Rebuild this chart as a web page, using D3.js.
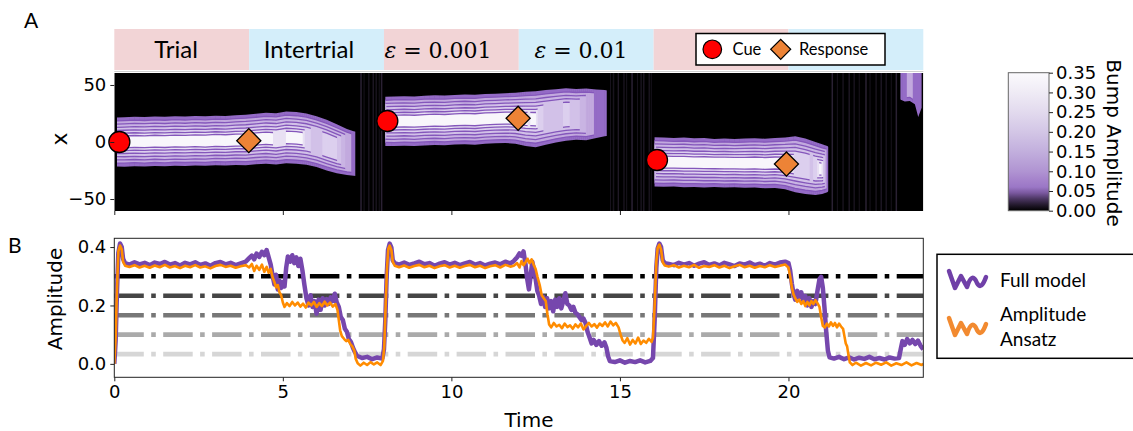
<!DOCTYPE html>
<html>
<head>
<meta charset="utf-8">
<script src="https://cdn.jsdelivr.net/npm/d3@7"></script>
<style>
  body { margin: 0; background: #fff; }
  svg { display: block; }
  .tick text { font-family: "DejaVu Sans", sans-serif; font-size: 18px; fill: #000; }
  .tick line { stroke: #222; }
</style>
</head>
<body>
<svg id="chart" width="1133" height="431"></svg>
<script>
// ---- banner (trial phases every 4 time units)
const phaseStarts = [0, 4, 8, 12, 16, 20];
const phaseKinds = ["trial", "inter", "trial", "inter", "trial", "inter"];
const phaseLabels = ["Trial", "Intertrial", "= 0.001", "= 0.01", "", ""];
const phaseLabelX = [176, 309, 438, 581, 0, 0];

// ---- cue / response markers (time, position)
const cueT = [0.15, 8.1, 16.1];
const cueX = [0, 18.4, -15.8];
const respT = [3.99, 11.98, 19.94];
const respX = [1.2, 20.8, -19.3];

// ---- bump edges in panel A
const seg1T   = [0.08, 0.3, 0.6, 0.9, 1.2, 1.5, 1.8, 2.1, 2.4, 2.7, 3.0, 3.3, 3.6, 3.9, 4.2, 4.5, 4.8, 5.1, 5.4, 5.7, 6.0, 6.3, 6.6, 6.9, 7.1, 7.25];
const seg1Top = [21.5, 21.8, 22.2, 21.9, 22.4, 22.1, 22.6, 22.3, 22.8, 22.5, 23.1, 22.8, 23.5, 24.0, 24.8, 25.6, 25.2, 26.8, 26.2, 25.0, 22.5, 19.5, 15.5, 11.5, 9.5, 8.5];
const seg1Bot = [-21.5, -21.6, -21.2, -21.5, -21.0, -21.3, -20.8, -21.0, -20.6, -20.9, -20.3, -20.5, -20.1, -20.3, -19.6, -19.0, -19.8, -18.6, -19.0, -20.0, -22.0, -25.0, -27.5, -29.0, -29.5, -30.0];

const seg2T   = [8.04, 8.3, 8.6, 8.9, 9.2, 9.5, 9.8, 10.1, 10.4, 10.7, 11.0, 11.3, 11.6, 11.9, 12.2, 12.5, 12.8, 13.1, 13.4, 13.7, 14.0, 14.3, 14.55, 14.66];
const seg2Top = [39.6, 39.9, 40.2, 40.0, 40.6, 40.9, 40.7, 41.3, 41.6, 41.4, 42.1, 42.4, 42.8, 43.2, 44.0, 44.5, 45.5, 46.3, 47.2, 46.5, 47.0, 46.0, 45.6, 45.0];
const seg2Bot = [-3.4, -3.6, -3.2, -3.5, -3.0, -2.6, -2.9, -2.3, -2.0, -2.4, -1.6, -1.2, -0.9, -1.5, -3.5, -4.5, -2.5, -0.5, 1.0, 2.0, 1.5, 3.5, 5.0, 5.5];

const seg3T   = [16.02, 16.3, 16.6, 16.9, 17.2, 17.5, 17.8, 18.1, 18.4, 18.7, 19.0, 19.3, 19.6, 19.9, 20.2, 20.5, 20.8, 21.0, 21.15, 21.23];
const seg3Top = [4.2, 4.0, 3.6, 3.9, 3.2, 3.5, 2.7, 3.1, 2.6, 3.0, 3.3, 2.9, 3.5, 4.0, 5.0, 3.0, 0.0, -2.0, -3.5, -5.0];
const seg3Bot = [-39.0, -39.3, -39.1, -39.6, -39.4, -39.8, -39.5, -40.0, -39.7, -40.2, -40.0, -40.5, -40.3, -41.5, -44.0, -45.5, -46.5, -45.5, -44.0, -42.0];

const seg4T   = [23.3, 23.45, 23.6, 23.75, 23.85, 23.95];
const seg4Top = [80, 80, 80, 80, 80, 80];
const seg4Bot = [37.5, 35.5, 36.0, 33.0, 22.0, 30.0];

// faint noise streaks between trials
const streakT = [7.32, 7.41, 7.55, 7.68, 7.77, 7.86, 7.93, 14.72, 14.81, 14.95, 15.12, 15.2, 15.36, 15.52, 15.63, 15.71, 15.87, 15.93,
                 21.3, 21.45, 21.62, 21.8, 21.95, 22.1, 22.3, 22.42, 22.6, 22.75, 22.9, 23.05, 23.2];

// ---- panel B: full model amplitude
const fullT = [0.00, 0.04, 0.08, 0.12, 0.17, 0.22, 0.26, 0.32, 0.45, 0.60, 0.75, 0.90, 1.05, 1.20, 1.35, 1.50, 1.65, 1.80, 1.95, 2.10, 2.25, 2.40, 2.55, 2.70, 2.85, 3.00, 3.15, 3.30, 3.45, 3.60, 3.75, 3.90,
  4.00, 4.08, 4.15, 4.22, 4.30, 4.38, 4.45, 4.52, 4.58, 4.64, 4.70, 4.75, 4.80, 4.85, 4.90, 4.95, 5.00, 5.05, 5.10, 5.15, 5.22, 5.28, 5.34, 5.40, 5.46, 5.52, 5.58, 5.64, 5.70, 5.76, 5.82, 5.88, 5.94,
  6.00, 6.06, 6.12, 6.18, 6.24, 6.30, 6.36, 6.42, 6.48, 6.54, 6.60, 6.66, 6.72, 6.78, 6.84, 6.90, 6.96, 7.02, 7.08, 7.14, 7.20, 7.35, 7.50, 7.65, 7.80, 7.95,
  8.00, 8.04, 8.08, 8.12, 8.17, 8.22, 8.26, 8.32, 8.45, 8.60, 8.75, 8.90, 9.05, 9.20, 9.35, 9.50, 9.65, 9.80, 9.95, 10.10, 10.25, 10.40, 10.55, 10.70, 10.85, 11.00, 11.15, 11.30, 11.45, 11.60, 11.75, 11.85,
  11.95, 12.02, 12.08, 12.14, 12.20, 12.25, 12.30, 12.35, 12.40, 12.45, 12.50, 12.55, 12.60, 12.66, 12.72, 12.78, 12.84, 12.90, 12.96, 13.02, 13.08, 13.14, 13.20, 13.26, 13.32, 13.38, 13.44, 13.50, 13.56, 13.62, 13.68, 13.74, 13.80, 13.86, 13.92, 13.98,
  14.04, 14.10, 14.16, 14.22, 14.30, 14.38, 14.46, 14.54, 14.60, 14.65, 14.70, 14.85, 15.00, 15.15, 15.30, 15.45, 15.60, 15.75, 15.90, 15.98,
  16.03, 16.08, 16.12, 16.17, 16.22, 16.27, 16.33, 16.45, 16.60, 16.75, 16.90, 17.05, 17.20, 17.35, 17.50, 17.65, 17.80, 17.95, 18.10, 18.25, 18.40, 18.55, 18.70, 18.85, 19.00, 19.15, 19.30, 19.45, 19.60, 19.75, 19.90,
  20.00, 20.05, 20.10, 20.15, 20.20, 20.26, 20.32, 20.38, 20.44, 20.50, 20.56, 20.62, 20.68, 20.74, 20.80, 20.86, 20.92, 20.97, 21.02, 21.07, 21.12, 21.17, 21.22, 21.35, 21.50, 21.65, 21.80, 21.95,
  22.10, 22.25, 22.40, 22.55, 22.70, 22.85, 23.00, 23.15, 23.28, 23.33, 23.38, 23.45, 23.52, 23.60, 23.68, 23.76, 23.84, 23.92, 24.00];
const fullAmp = [0.000, 0.080, 0.250, 0.380, 0.412, 0.400, 0.360, 0.345, 0.340, 0.348, 0.341, 0.346, 0.338, 0.347, 0.342, 0.349, 0.340, 0.345, 0.337, 0.346, 0.341, 0.348, 0.339, 0.344, 0.336, 0.345, 0.349, 0.341, 0.346, 0.338, 0.344, 0.350,
  0.362, 0.371, 0.358, 0.378, 0.366, 0.384, 0.372, 0.390, 0.365, 0.340, 0.300, 0.272, 0.305, 0.255, 0.285, 0.260, 0.280, 0.265, 0.330, 0.368, 0.350, 0.372, 0.345, 0.365, 0.335, 0.360, 0.320, 0.270, 0.225, 0.200, 0.235, 0.195, 0.215,
  0.172, 0.220, 0.185, 0.225, 0.200, 0.222, 0.205, 0.228, 0.215, 0.240, 0.210, 0.195, 0.160, 0.150, 0.120, 0.110, 0.085, 0.075, 0.055, 0.040, 0.028, 0.020, 0.024, 0.016, 0.022, 0.018,
  0.050, 0.150, 0.300, 0.390, 0.412, 0.398, 0.355, 0.345, 0.340, 0.347, 0.339, 0.344, 0.350, 0.341, 0.345, 0.336, 0.343, 0.348, 0.340, 0.346, 0.338, 0.344, 0.349, 0.340, 0.345, 0.337, 0.343, 0.347, 0.341, 0.350, 0.344, 0.352,
  0.365, 0.378, 0.370, 0.385, 0.340, 0.290, 0.255, 0.300, 0.350, 0.320, 0.290, 0.250, 0.235, 0.205, 0.230, 0.195, 0.225, 0.190, 0.215, 0.180, 0.220, 0.195, 0.225, 0.190, 0.215, 0.242, 0.205, 0.200, 0.185, 0.195, 0.175, 0.170, 0.160, 0.150, 0.155, 0.140,
  0.110, 0.090, 0.070, 0.082, 0.065, 0.078, 0.062, 0.074, 0.055, 0.025, 0.010, 0.006, 0.012, 0.004, 0.010, 0.006, 0.012, 0.005, 0.010, 0.020,
  0.150, 0.330, 0.395, 0.412, 0.400, 0.355, 0.345, 0.342, 0.338, 0.346, 0.340, 0.345, 0.336, 0.343, 0.348, 0.339, 0.344, 0.337, 0.346, 0.341, 0.335, 0.344, 0.340, 0.347, 0.338, 0.343, 0.336, 0.345, 0.340, 0.347, 0.350,
  0.345, 0.320, 0.275, 0.240, 0.220, 0.250, 0.228, 0.245, 0.215, 0.232, 0.200, 0.225, 0.195, 0.215, 0.205, 0.250, 0.290, 0.298, 0.260, 0.190, 0.110, 0.045, 0.022, 0.018, 0.024, 0.016, 0.022, 0.015,
  0.021, 0.017, 0.024, 0.016, 0.020, 0.015, 0.022, 0.018, 0.020, 0.050, 0.078, 0.065, 0.085, 0.070, 0.082, 0.068, 0.080, 0.062, 0.050];

// ---- panel B: amplitude ansatz
const ansatzT = [0.00, 0.04, 0.08, 0.12, 0.17, 0.22, 0.26, 0.32, 0.45, 0.60, 0.75, 0.90, 1.05, 1.20, 1.35, 1.50, 1.65, 1.80, 1.95, 2.10, 2.25, 2.40, 2.55, 2.70, 2.85, 3.00, 3.15, 3.30, 3.45, 3.60, 3.75, 3.90,
  4.00, 4.08, 4.15, 4.22, 4.30, 4.38, 4.45, 4.52, 4.58, 4.64, 4.70, 4.75, 4.80, 4.85, 4.90, 4.95, 5.00, 5.05, 5.12, 5.20, 5.28, 5.36, 5.44, 5.52, 5.60, 5.68, 5.76, 5.84, 5.92,
  6.00, 6.08, 6.16, 6.24, 6.32, 6.40, 6.48, 6.56, 6.62, 6.66, 6.70, 6.75, 6.82, 6.88, 6.94, 7.00, 7.06, 7.12, 7.16, 7.22, 7.30, 7.40, 7.50, 7.60, 7.70, 7.80, 7.90, 7.97,
  8.01, 8.05, 8.09, 8.13, 8.17, 8.22, 8.26, 8.32, 8.45, 8.60, 8.75, 8.90, 9.05, 9.20, 9.35, 9.50, 9.65, 9.80, 9.95, 10.10, 10.25, 10.40, 10.55, 10.70, 10.85, 11.00, 11.15, 11.30, 11.45, 11.60, 11.75, 11.85,
  11.95, 12.02, 12.08, 12.14, 12.20, 12.26, 12.32, 12.38, 12.44, 12.50, 12.55, 12.62, 12.68, 12.74, 12.80, 12.85, 12.90, 12.96, 13.04, 13.12, 13.20, 13.28, 13.36, 13.44, 13.52, 13.60, 13.68, 13.76, 13.84, 13.92,
  14.00, 14.08, 14.16, 14.24, 14.32, 14.40, 14.48, 14.56, 14.64, 14.72, 14.80, 14.88, 14.96, 15.02, 15.08, 15.14, 15.22, 15.30, 15.38, 15.46, 15.54, 15.62, 15.70, 15.78, 15.86, 15.94, 15.98,
  16.03, 16.08, 16.12, 16.17, 16.22, 16.27, 16.33, 16.45, 16.60, 16.75, 16.90, 17.05, 17.20, 17.35, 17.50, 17.65, 17.80, 17.95, 18.10, 18.25, 18.40, 18.55, 18.70, 18.85, 19.00, 19.15, 19.30, 19.45, 19.60, 19.75, 19.90,
  20.00, 20.05, 20.10, 20.15, 20.20, 20.26, 20.32, 20.38, 20.44, 20.50, 20.56, 20.62, 20.68, 20.74, 20.80, 20.86, 20.92, 20.97, 21.02, 21.08, 21.14, 21.20, 21.26, 21.32, 21.38, 21.44, 21.50, 21.56, 21.62, 21.66, 21.70, 21.74, 21.78, 21.82, 21.90,
  22.00, 22.15, 22.30, 22.45, 22.60, 22.75, 22.90, 23.05, 23.20, 23.35, 23.50, 23.65, 23.80, 23.95, 24.00];
const ansatzAmp = [0.000, 0.090, 0.260, 0.385, 0.405, 0.392, 0.350, 0.336, 0.332, 0.338, 0.330, 0.336, 0.329, 0.337, 0.331, 0.339, 0.330, 0.335, 0.328, 0.336, 0.331, 0.338, 0.330, 0.334, 0.327, 0.335, 0.339, 0.332, 0.336, 0.329, 0.334, 0.338,
  0.330, 0.342, 0.318, 0.336, 0.322, 0.340, 0.315, 0.332, 0.312, 0.325, 0.295, 0.280, 0.262, 0.270, 0.245, 0.235, 0.210, 0.195, 0.208, 0.198, 0.212, 0.200, 0.210, 0.196, 0.206, 0.193, 0.210, 0.200, 0.212,
  0.195, 0.208, 0.198, 0.213, 0.200, 0.210, 0.196, 0.205, 0.185, 0.150, 0.115, 0.095, 0.085, 0.078, 0.082, 0.068, 0.060, 0.045, 0.018, 0.002, -0.006, 0.004, -0.004, 0.006, -0.002, 0.005, -0.004, 0.010,
  0.060, 0.200, 0.330, 0.395, 0.405, 0.390, 0.350, 0.336, 0.331, 0.337, 0.329, 0.335, 0.339, 0.331, 0.336, 0.328, 0.334, 0.338, 0.330, 0.336, 0.329, 0.335, 0.339, 0.331, 0.336, 0.328, 0.334, 0.338, 0.330, 0.339, 0.333, 0.336,
  0.345, 0.330, 0.352, 0.338, 0.348, 0.360, 0.345, 0.358, 0.340, 0.325, 0.300, 0.270, 0.235, 0.225, 0.215, 0.170, 0.135, 0.125, 0.140, 0.128, 0.134, 0.122, 0.138, 0.126, 0.132, 0.120, 0.135, 0.125, 0.138, 0.118,
  0.130, 0.140, 0.128, 0.136, 0.124, 0.138, 0.130, 0.142, 0.128, 0.145, 0.132, 0.140, 0.125, 0.100, 0.080, 0.072, 0.088, 0.066, 0.082, 0.070, 0.090, 0.068, 0.080, 0.072, 0.086, 0.075, 0.090,
  0.200, 0.350, 0.398, 0.408, 0.392, 0.348, 0.337, 0.333, 0.338, 0.330, 0.336, 0.331, 0.339, 0.329, 0.335, 0.332, 0.338, 0.330, 0.336, 0.328, 0.334, 0.339, 0.331, 0.336, 0.329, 0.335, 0.331, 0.338, 0.332, 0.336, 0.340,
  0.330, 0.300, 0.262, 0.238, 0.225, 0.212, 0.220, 0.205, 0.215, 0.198, 0.212, 0.200, 0.215, 0.205, 0.218, 0.208, 0.195, 0.160, 0.130, 0.125, 0.138, 0.128, 0.142, 0.130, 0.140, 0.125, 0.138, 0.128, 0.120, 0.095, 0.070, 0.060, 0.030, 0.005, -0.004,
  0.004, -0.006, 0.003, -0.005, 0.004, -0.003, 0.005, -0.006, 0.002, -0.004, 0.005, -0.005, 0.003, -0.004, 0.000];

// dash-dot reference levels in panel B
const refLevels = [0.3, 0.2333, 0.1667, 0.1, 0.0333];
const refColors = ["#000000", "#454545", "#777777", "#aaaaaa", "#d6d6d6"];

// colour map (bump amplitude)
const cmapStops = [0.0, 0.015, 0.03, 0.045, 0.06, 0.08, 0.10, 0.15, 0.20, 0.25, 0.30, 0.35];
const cmapColors = ["#000000", "#241a2e", "#4b3662", "#7a589f", "#9b77c6", "#a684cc", "#b094d2", "#c2afdd", "#d3c6e6", "#e2daee", "#efebf5", "#fbfafd"];
const cbarTicks = [0, 0.05, 0.10, 0.15, 0.20, 0.25, 0.30, 0.35];

// nested bump bands: width fraction, amplitude needed, fill
const bandFrac = [1.0, 0.86, 0.73, 0.60, 0.47, 0.35, 0.24];
const bandThr  = [0.03, 0.07, 0.12, 0.16, 0.20, 0.24, 0.28];
const bandFill = ["#946bc6", "#c2a9de", "#c9b4e3", "#d2c1e8", "#dccfee", "#e8e0f3", "#f8f6fb"];

const svg = d3.select("#chart");
const defs = svg.append("defs");

const xL = 114.3, xR = 923.3;
const x = d3.scaleLinear().domain([0, 24]).range([xL, xR]);
const yA = d3.scaleLinear().domain([-60.5, 60.5]).range([211, 73]);
const yB = d3.scaleLinear().domain([-0.046, 0.43]).range([377.3, 238.3]);

// panel letters
svg.append("text").attr("x", 24).attr("y", 28).text("A")
  .style("font-family", "Lato, sans-serif").style("font-size", "21px");
svg.append("text").attr("x", 8).attr("y", 253).text("B")
  .style("font-family", "Lato, sans-serif").style("font-size", "21px");

// ---- banner
const banner = svg.append("g");
banner.selectAll("rect").data(phaseStarts).join("rect")
  .attr("x", d => x(d)).attr("y", 29)
  .attr("width", d => x(d + 4) - x(d)).attr("height", 41)
  .attr("fill", (d, i) => phaseKinds[i] === "trial" ? "#f2d4d6" : "#d4eefa");

phaseLabels.forEach((lab, i) => {
  if (!lab) return;
  const t = banner.append("text").attr("x", phaseLabelX[i]).attr("y", 58)
    .attr("text-anchor", "middle");
  if (lab.startsWith("=")) {
    t.style("font-family", "'DejaVu Serif', serif").style("font-size", "22px");
    t.append("tspan").style("font-style", "italic").text("ε");
    t.append("tspan").text(" " + lab);
  } else {
    t.style("font-family", "Lato, sans-serif").style("font-size", "24px").text(lab);
  }
});

// banner legend
const bl = svg.append("g");
bl.append("rect").attr("x", 696).attr("y", 33.5).attr("width", 189).attr("height", 31.5)
  .attr("fill", "#fff").attr("stroke", "#000").attr("stroke-width", 1.5);
bl.append("circle").attr("cx", 712.3).attr("cy", 49.3).attr("r", 9.3)
  .attr("fill", "#ff0000").attr("stroke", "#000").attr("stroke-width", 1.2);
bl.append("path").attr("d", d3.symbol(d3.symbolSquare, 200)())
  .attr("transform", "translate(780.7,49.3) rotate(45)")
  .attr("fill", "#ed8336").attr("stroke", "#000").attr("stroke-width", 1.2);
bl.append("text").attr("x", 732.5).attr("y", 55).text("Cue")
  .style("font-family", "Lato, sans-serif").style("font-size", "16.5px");
bl.append("text").attr("x", 799).attr("y", 55).text("Response")
  .style("font-family", "Lato, sans-serif").style("font-size", "16.5px");

// ---- panel A heatmap
defs.append("clipPath").attr("id", "clipA").append("rect")
  .attr("x", xL).attr("y", 73).attr("width", xR - xL).attr("height", 138);

const gA = svg.append("g").attr("clip-path", "url(#clipA)");
gA.append("rect").attr("x", xL).attr("y", 73).attr("width", xR - xL).attr("height", 138).attr("fill", "#000");

gA.selectAll("line.streak").data(streakT).join("line")
  .attr("class", "streak")
  .attr("x1", d => x(d)).attr("x2", d => x(d))
  .attr("y1", 73).attr("y2", 211)
  .attr("stroke", (d, i) => i % 3 === 0 ? "#2a2133" : "#18131d")
  .attr("stroke-width", (d, i) => i % 2 ? 1 : 1.5);

// time clips for each band: runs where the full-model amplitude exceeds the band level
bandThr.forEach((thr, b) => {
  const cp = defs.append("clipPath").attr("id", "band" + b);
  for (let j = 0; j < fullT.length - 1; j++) {
    if (fullAmp[j] >= thr && fullAmp[j + 1] >= thr) {
      cp.append("rect").attr("x", x(fullT[j]) - 0.3).attr("y", 60)
        .attr("width", x(fullT[j + 1]) - x(fullT[j]) + 0.6).attr("height", 160);
    }
  }
});

const segments = [
  { t: seg1T, top: seg1Top, bot: seg1Bot },
  { t: seg2T, top: seg2Top, bot: seg2Bot },
  { t: seg3T, top: seg3Top, bot: seg3Bot },
  { t: seg4T, top: seg4Top, bot: seg4Bot }
];

segments.forEach(seg => {
  const pts = seg.t.map((t, i) => ({ t, c: (seg.top[i] + seg.bot[i]) / 2, h: (seg.top[i] - seg.bot[i]) / 2 }));
  bandFrac.forEach((f, b) => {
    const g = gA.append("g").attr("clip-path", `url(#band${b})`);
    const area = d3.area().x(d => x(d.t))
      .y0(d => yA(d.c - f * d.h)).y1(d => yA(d.c + f * d.h));
    g.append("path").datum(pts).attr("d", area).attr("fill", bandFill[b]);
    if (b > 0) {
      ["hi", "lo"].forEach(side => {
        const ln = d3.line().x(d => x(d.t))
          .y(d => yA(side === "hi" ? d.c + f * d.h : d.c - f * d.h));
        g.append("path").datum(pts).attr("d", ln).attr("fill", "none")
          .attr("stroke", "#8456bb").attr("stroke-width", 1.3);
      });
    }
  });
});

// markers
svg.append("g").selectAll("circle").data(cueT).join("circle")
  .attr("cx", d => x(d)).attr("cy", (d, i) => yA(cueX[i])).attr("r", 10.5)
  .attr("fill", "#ff0000").attr("stroke", "#000").attr("stroke-width", 1.3);
svg.append("g").selectAll("path").data(respT).join("path")
  .attr("d", d3.symbol(d3.symbolSquare, 290)())
  .attr("transform", (d, i) => `translate(${x(d)},${yA(respX[i])}) rotate(45)`)
  .attr("fill", "#ed8336").attr("stroke", "#000").attr("stroke-width", 1.3);

svg.append("line").attr("x1", xL).attr("x2", xR).attr("y1", 71.5).attr("y2", 71.5)
  .attr("stroke", "#cfcfcf").attr("stroke-width", 1.2);

// axes for A
const axA = svg.append("g").attr("transform", `translate(${xL},0)`)
  .call(d3.axisLeft(yA).tickValues([-50, 0, 50]).tickSize(4).tickPadding(4));
axA.select(".domain").remove();
const axAx = svg.append("g").attr("transform", "translate(0,211)")
  .call(d3.axisBottom(x).tickValues([0, 5, 10, 15, 20]).tickSize(4).tickFormat(""));
axAx.select(".domain").remove();
svg.append("text").attr("transform", "translate(67,139) rotate(-90)")
  .attr("text-anchor", "middle").text("x")
  .style("font-family", "'DejaVu Sans', sans-serif").style("font-size", "22px");

// ---- colorbar
const grad = defs.append("linearGradient").attr("id", "cbar")
  .attr("x1", 0).attr("x2", 0).attr("y1", 1).attr("y2", 0);
cmapStops.forEach((s, i) => grad.append("stop").attr("offset", s / 0.35).attr("stop-color", cmapColors[i]));
const yC = d3.scaleLinear().domain([0, 0.35]).range([210.7, 72.7]);
svg.append("rect").attr("x", 1008.3).attr("y", 72.7).attr("width", 40.7).attr("height", 138)
  .attr("fill", "url(#cbar)").attr("stroke", "#666").attr("stroke-width", 1);
const axC = svg.append("g").attr("transform", "translate(1049,0)")
  .call(d3.axisRight(yC).tickValues(cbarTicks).tickSize(4).tickPadding(3).tickFormat(d3.format(".2f")));
axC.select(".domain").remove();
svg.append("text").attr("transform", "translate(1107,143) rotate(90)")
  .attr("text-anchor", "middle").text("Bump Amplitude")
  .style("font-family", "'DejaVu Sans', sans-serif").style("font-size", "20px");

// ---- panel B
defs.append("clipPath").attr("id", "clipB").append("rect")
  .attr("x", xL).attr("y", 238.3).attr("width", xR - xL).attr("height", 139);
const gB = svg.append("g").attr("clip-path", "url(#clipB)");

gB.selectAll("line.ref").data(refLevels).join("line")
  .attr("class", "ref")
  .attr("x1", xL).attr("x2", xR)
  .attr("y1", d => yB(d)).attr("y2", d => yB(d))
  .attr("stroke", (d, i) => refColors[i]).attr("stroke-width", 4.6)
  .attr("stroke-dasharray", "29.5,7.4,4.6,7.4");

const lineB = d3.line().x(d => x(d[0])).y(d => yB(d[1]));
gB.append("path").datum(fullT.map((t, i) => [t, fullAmp[i]])).attr("d", lineB)
  .attr("fill", "none").attr("stroke", "#7647ad").attr("stroke-width", 4.5).attr("stroke-linejoin", "round");
gB.append("path").datum(ansatzT.map((t, i) => [t, ansatzAmp[i]])).attr("d", lineB)
  .attr("fill", "none").attr("stroke", "#ff8c00").attr("stroke-width", 2.6).attr("stroke-linejoin", "round");

svg.append("rect").attr("x", xL).attr("y", 238.3).attr("width", xR - xL).attr("height", 139)
  .attr("fill", "none").attr("stroke", "#222").attr("stroke-width", 1);

const axBx = svg.append("g").attr("transform", "translate(0,377.3)")
  .call(d3.axisBottom(x).tickValues([0, 5, 10, 15, 20]).tickSize(4).tickPadding(4).tickFormat(d3.format("d")));
axBx.select(".domain").remove();
const axBy = svg.append("g").attr("transform", `translate(${xL},0)`)
  .call(d3.axisLeft(yB).tickValues([0, 0.2, 0.4]).tickSize(4).tickPadding(4).tickFormat(d3.format(".1f")));
axBy.select(".domain").remove();

svg.append("text").attr("transform", "translate(62,299) rotate(-90)")
  .attr("text-anchor", "middle").text("Amplitude")
  .style("font-family", "'DejaVu Sans', sans-serif").style("font-size", "20px");
svg.append("text").attr("x", 529).attr("y", 427)
  .attr("text-anchor", "middle").text("Time")
  .style("font-family", "'DejaVu Sans', sans-serif").style("font-size", "20px");

// legend B
const lg = svg.append("g");
lg.append("rect").attr("x", 937).attr("y", 254.3).attr("width", 210).attr("height", 104)
  .attr("fill", "#fff").attr("stroke", "#000").attr("stroke-width", 1.5);
const squiggle = "M0,0 L6,17 L12,5 L18,16 Q23,0 28,12 Q32,20 37,6";
lg.append("path").attr("d", squiggle).attr("transform", "translate(949,271)")
  .attr("fill", "none").attr("stroke", "#7040a8").attr("stroke-width", 4.5)
  .attr("stroke-linecap", "round").attr("stroke-linejoin", "round");
lg.append("path").attr("d", squiggle).attr("transform", "translate(949,318)")
  .attr("fill", "none").attr("stroke", "#f28a30").attr("stroke-width", 4.5)
  .attr("stroke-linecap", "round").attr("stroke-linejoin", "round");
[["Full model", 287], ["Amplitude", 321], ["Ansatz", 346]].forEach(([s, yy]) => {
  lg.append("text").attr("x", 1000).attr("y", yy).text(s)
    .style("font-family", "Lato, sans-serif").style("font-size", "19px");
});
</script>
</body>
</html>
